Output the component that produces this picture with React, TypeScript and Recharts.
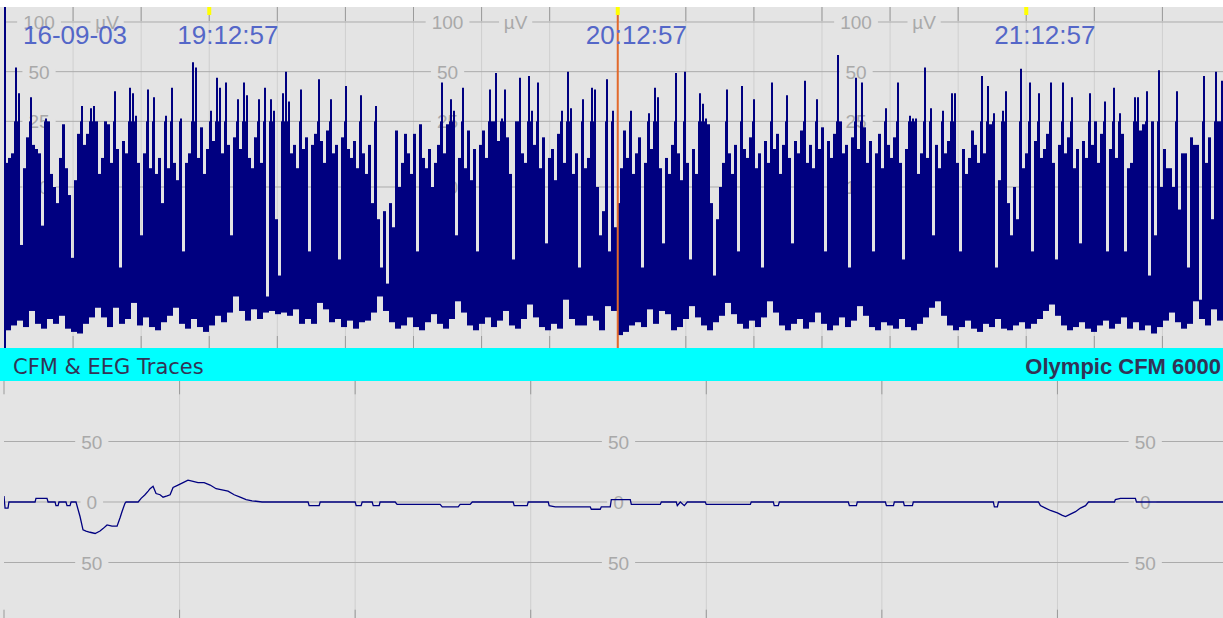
import React from 'react';
import { ComposedChart, LineChart, Bar, Line, XAxis, YAxis, ReferenceLine, ReferenceDot } from 'recharts';

// ---- CFM trend (top panel) ----
// one column per sample: maximum amplitude in µV
const cfmMax = [
  14, 15, 16, 53, 37, 6.4, 13, 20, 35, 18,
  17, 16, 7.6, 26, 25, 12, 10, 9, 15, 24,
  13, 9.5, 5.6, 11, 21, 31, 18, 21, 30, 31,
  25, 12, 15, 25, 24, 14, 38, 17, 5, 19,
  16, 40, 37, 27, 14, 7, 16, 39, 13, 35,
  12, 15, 9, 27, 13, 40, 14, 11, 26, 6,
  14, 16, 57, 53, 15, 23, 12, 17, 29, 19,
  46, 40, 16, 43, 18, 7, 20, 34, 17, 43,
  36, 15, 13, 20, 34, 14, 40, 3.2, 34, 29,
  8, 4.5, 37, 50, 33, 16, 18, 13, 39, 17,
  20, 6, 18, 21, 45, 19, 14, 22, 34, 16,
  18, 5.5, 20, 41, 17, 15, 19, 13, 36, 16,
  12, 18, 9, 31, 8, 5, 8.5, 4, 9, 7.5,
  22, 10, 14, 21, 16, 12, 21, 6, 24, 15,
  13, 17, 10, 14, 18, 43, 16, 24, 34, 29,
  7, 15, 40, 13, 22, 11, 17, 6, 18, 22,
  15, 39, 25, 49, 19, 26, 39, 20, 12, 5.5,
  25, 46, 16, 14, 47, 29, 18, 43, 13, 20,
  6.5, 15, 17, 11, 21, 29, 14, 50, 30, 12,
  16, 5, 34, 13, 15, 40, 39, 10, 7, 8.5,
  45, 6, 29, 7.5, 9, 13, 22, 15, 29, 12,
  16, 20, 5, 14, 28, 17, 40, 35, 13, 6.5,
  15, 12, 18, 49, 16, 11, 50, 14, 5.5, 17,
  12, 37, 32, 26, 24, 9, 4.5, 8, 10, 14,
  39, 16, 12, 18, 6, 41, 17, 15, 20, 34,
  13, 16, 5, 19, 14, 43, 17, 21, 12, 18,
  36, 15, 6.5, 19, 16, 22, 44, 14, 18, 13,
  34, 17, 23, 6, 19, 15, 21, 63, 25, 16,
  18, 5, 20, 46, 17, 43, 23, 14, 19, 6,
  16, 21, 13, 30, 18, 15, 20, 43, 14, 5.5,
  17, 27, 26, 26, 12, 16, 53, 15, 30, 7,
  18, 13, 29, 16, 19, 37, 37, 14, 6, 17,
  12, 15, 22, 18, 14, 47, 16, 41, 24, 28,
  5, 11, 29, 38, 9, 7, 10, 8, 52, 13,
  16, 43, 6, 19, 37, 15, 17, 21, 43, 14,
  5.5, 18, 43, 16, 20, 35, 13, 17, 6.5, 19,
  15, 37, 18, 25, 14, 21, 33, 6, 17, 40,
  15, 28, 21, 6, 13, 14, 35, 35, 22, 24,
  38, 4.5, 25, 7, 51, 10, 17, 13, 13, 10,
  38, 8.6, 16, 16, 5, 20, 18, 18, 3, 47,
  14, 20, 8, 50, 25, 44,
];

// minimum amplitude in µV, one value for every two columns
const cfmMin = [
  1.1, 1.4, 1.7, 1.3, 2.3, 1.5, 1.2, 1.8, 1.5, 2.0,
  1.2, 1.0, 0.9, 1.5, 1.9, 2.5, 1.9, 1.3, 2.5, 1.5,
  1.8, 2.8, 1.4, 1.9, 1.3, 1.1, 1.6, 2.0, 2.5, 1.5,
  1.2, 1.8, 1.3, 1.0, 1.4, 2.0, 1.6, 2.2, 3.2, 2.3,
  1.7, 2.4, 1.8, 2.2, 2.3, 2.1, 2.2, 2.0, 2.4, 1.5,
  1.8, 1.5, 2.8, 2.4, 1.6, 1.8, 1.3, 1.7, 1.2, 1.6,
  1.7, 2.2, 3.2, 2.3, 1.6, 1.2, 1.4, 1.9, 1.3, 1.1,
  1.6, 2.1, 1.5, 1.2, 1.8, 2.9, 2.2, 1.4, 1.1, 1.5,
  1.9, 1.3, 1.7, 2.3, 1.4, 1.2, 1.8, 2.7, 1.9, 1.3,
  1.1, 1.5, 1.2, 3.0, 1.8, 1.4, 1.4, 2.0, 1.7, 1.1,
  2.6, 2.3, 0.8, 1.0, 1.4, 1.6, 1.3, 2.4, 1.5, 2.3,
  2.1, 1.1, 1.3, 1.8, 2.6, 1.9, 1.4, 1.1, 1.6, 2.0,
  2.8, 2.1, 1.5, 1.2, 1.7, 1.3, 1.9, 2.9, 2.2, 1.4,
  1.1, 1.5, 1.8, 1.2, 1.6, 2.2, 1.5, 1.1, 1.4, 1.9,
  1.3, 1.7, 2.6, 2.0, 1.3, 1.1, 1.6, 1.4, 1.2, 1.8,
  1.3, 1.1, 1.5, 1.9, 2.5, 2.9, 2.0, 1.4, 1.1, 1.3,
  1.7, 1.2, 1.0, 1.5, 1.3, 1.8, 1.2, 1.1, 1.4, 1.6,
  1.2, 1.5, 1.8, 2.3, 2.7, 2.0, 1.4, 1.1, 1.3, 1.6,
  1.2, 1.0, 1.4, 1.7, 1.2, 1.5, 1.9, 1.2, 1.6, 1.1,
  1.4, 0.9, 1.3, 1.7, 2.2, 1.6, 1.2, 1.5, 2.9, 1.8,
  1.4, 2.4, 1.7,
];

const SPAN_MIN = 178.9; // minutes shown, starting 18:42:57
const timeTicks = [0, 10, 20, 30, 40, 50, 60, 70, 80, 90, 100, 110, 120, 130, 140, 150, 160, 170];
const stampTicks = [30, 90, 150];
const stampLabels = ['19:12:57', '20:12:57', '21:12:57'];
const dateLabel = '16-09-03';
const cursorTime = 90;
const cfmLevels = [100, 50, 25, 10];
const cfmLabelTimes = [5, 65, 125];
const unitTimes = [15, 75, 135];

// ---- EEG trace (bottom panel), seconds / µV ----
const eegTime = [
  0, 0.006, 0.023, 0.028, 0.177, 0.182, 0.245, 0.251, 0.291, 0.296,
  0.308, 0.313, 0.353, 0.359, 0.376, 0.382, 0.41, 0.433, 0.45, 0.467,
  0.49, 0.519, 0.547, 0.564, 0.587, 0.615, 0.644, 0.661, 0.672, 0.689,
  0.695, 0.764, 0.781, 0.803, 0.821, 0.832, 0.849, 0.866, 0.889, 0.906,
  0.929, 0.946, 0.963, 0.991, 1.02, 1.048, 1.077, 1.105, 1.14, 1.174,
  1.208, 1.242, 1.276, 1.311, 1.345, 1.379, 1.413, 1.47, 1.732, 1.738,
  1.795, 1.801, 2.0, 2.006, 2.034, 2.04, 2.097, 2.103, 2.137, 2.142,
  2.228, 2.239, 2.484, 2.496, 2.587, 2.598, 2.655, 2.667, 2.9, 2.906,
  2.98, 2.986, 3.1, 3.105, 3.14, 3.339, 3.345, 3.396, 3.402, 3.453,
  3.459, 3.567, 3.573, 3.738, 3.744, 3.829, 3.835, 3.852, 3.875, 3.892,
  3.994, 4.0, 4.251, 4.256, 4.382, 4.387, 4.41, 4.416, 4.809, 4.815,
  4.855, 4.86, 5.02, 5.026, 5.066, 5.071, 5.123, 5.128, 5.174, 5.179,
  5.635, 5.641, 5.658, 5.664, 5.892, 5.903, 5.932, 5.96, 6.0, 6.028,
  6.046, 6.074, 6.103, 6.131, 6.16, 6.177, 6.325, 6.33, 6.359, 6.444,
  6.45, 7.0,
];
const eegValue = [
  5, -5, -5, 0, 0, 3, 3, 0, 0, -3,
  -3, 0, 0, -3, -3, 0, 0, -12, -23, -24,
  -25, -26, -24, -22, -19, -20, -20, -13, -8, -1,
  0, 0, 3, 6, 9, 11, 13, 7, 6, 4,
  5, 6, 12, 14, 16, 18, 17, 16, 16, 14,
  11, 10, 9, 6, 4, 2, 1, 0, 0, -3,
  -3, 0, 0, -3, -3, 0, 0, -3, -3, 0,
  0, -2, -2, -4, -4, -2, -2, 0, 0, -3,
  -3, 0, 0, -3, -4, -4, -6, -6, -4, -4,
  2, 2, -2, -2, 0, 0, -3, 0, -3, 0,
  0, -2, -2, 0, 0, -3, -3, 0, 0, -3,
  -3, 0, 0, -3, -3, 0, 0, -3, -3, 0,
  0, -4, -4, 0, 0, -3, -5, -7, -9, -11,
  -12, -10, -8, -5, -3, 0, 0, 2, 3, 3,
  0, 0,
];
const eegTicks = [0, 1, 2, 3, 4, 5, 6, 7];
const eegGridTicks = [1, 2, 3, 4, 5, 6];
const eegLevels = [50, 0, -50];
const eegLabelTimes = [0.5, 3.5, 6.5];

// ---- styling ----
const NAVY = '#000080';
const BG = '#e4e4e4';
const GRID_H = '#ababab';
const GRID_V = '#cfcfcf';
const TICK = '#9a9a9a';
const LABEL = '#a9a9a9';
const STAMP = '#5467c8';
const ORANGE = '#e2692b';
const SANS = 'Liberation Sans, Arial, sans-serif';

// semi-log CFM scale: linear 0-10 µV, log 10-100 µV
const cfmScale = (v: number) => (v <= 10 ? v * 16.1 : 161 + 165 * Math.log10(v / 10));
const CFM_TOP = 341;
const SPIKE_FROM = 25; // the part of a column above this level is drawn as a thin spike
const EEG_MIN = -100;
const EEG_MAX = 100;

const colMinutes = SPAN_MIN / cfmMax.length;
const cfmRows = cfmMax.map((hi, i) => ({
  i,
  t: (i + 0.5) * colMinutes,
  body: [cfmScale(cfmMin[Math.floor(i / 2)]), cfmScale(Math.min(hi, SPIKE_FROM))],
  spike: hi > SPIKE_FROM ? [cfmScale(SPIKE_FROM) - 1, cfmScale(hi)] : null,
}));
const eegRows = eegTime.map((t, k) => ({ t, v: eegValue[k] }));

const gapLabel = (text: string) => (props: any) => {
  const w = text.length * 10.6 + 12;
  return (
    <g>
      <rect x={props.cx - w / 2} y={props.cy - 3} width={w} height={6} fill={BG} />
      <text x={props.cx} y={props.cy + 7} textAnchor="middle" fill={LABEL} fontSize={19} fontFamily={SANS}>
        {text}
      </text>
    </g>
  );
};

const StampTick = (props: any) => {
  const { x, y, payload } = props;
  if (payload.value === 0) {
    return (
      <text x={x + 18} y={y + 37} fill={STAMP} fontSize={26} fontFamily={SANS}>
        {dateLabel}
      </text>
    );
  }
  const label = stampLabels[stampTicks.indexOf(payload.value)];
  return (
    <g>
      <rect x={x - 2} y={y} width={4} height={8} fill="#ffff00" />
      <text x={x - 32} y={y + 37} fill={STAMP} fontSize={26} fontFamily={SANS}>
        {label}
      </text>
    </g>
  );
};

const topMargin = { top: 7, right: 0, bottom: 0, left: 5 };
const botMargin = { top: 0, right: 0, bottom: 0, left: 4 };
const layer: React.CSSProperties = { position: 'absolute', left: 0, top: 0 };
const lowLayer: React.CSSProperties = { position: 'absolute', left: 0, top: 381 };

const App = () => {
  const topX = <XAxis dataKey="t" type="number" domain={[0, SPAN_MIN]} allowDataOverflow hide />;
  const topY = <YAxis type="number" domain={[0, CFM_TOP]} allowDataOverflow hide />;
  const colX = <XAxis xAxisId="col" dataKey="i" type="category" hide />;
  const botX = <XAxis dataKey="t" type="number" domain={[0, 7]} allowDataOverflow hide />;
  const botY = <YAxis type="number" domain={[EEG_MIN, EEG_MAX]} allowDataOverflow hide />;
  return (
    <div style={{ position: 'absolute', left: 0, top: 0, width: 1223, height: 618, overflow: 'hidden', background: '#ffffff' }}>
      {/* top panel: grid */}
      <div style={{ position: 'absolute', left: 0, top: 7, width: 1223, height: 341, background: BG }} />
      <div style={layer}>
        <ComposedChart width={1223} height={348} margin={topMargin} data={cfmRows}>
          {topX}
          {topY}
          {timeTicks.slice(1).map((t) => (
            <ReferenceLine key={`v${t}`} x={t} stroke={GRID_V} />
          ))}
          {cfmLevels.map((lv) => (
            <ReferenceLine key={`h${lv}`} y={cfmScale(lv)} stroke={GRID_H} />
          ))}
          {timeTicks.map((t) => (
            <ReferenceLine key={`tt${t}`} segment={[{ x: t, y: CFM_TOP }, { x: t, y: CFM_TOP - 14 }]} stroke={TICK} />
          ))}
          {timeTicks.map((t) => (
            <ReferenceLine key={`tb${t}`} segment={[{ x: t, y: 0 }, { x: t, y: 12 }]} stroke={TICK} />
          ))}
        </ComposedChart>
      </div>
      {/* top panel: scale labels */}
      <div style={layer}>
        <ComposedChart width={1223} height={348} margin={topMargin} data={cfmRows}>
          {topX}
          {topY}
          {cfmLabelTimes.map((t) =>
            cfmLevels.map((lv) => (
              <ReferenceDot key={`${t}-${lv}`} x={t} y={cfmScale(lv)} r={0} shape={gapLabel(String(lv))} />
            ))
          )}
          {unitTimes.map((t) => (
            <ReferenceDot key={`u${t}`} x={t} y={cfmScale(100)} r={0} shape={gapLabel('µV')} />
          ))}
        </ComposedChart>
      </div>
      {/* top panel: CFM trend, dense band */}
      <div style={layer}>
        <ComposedChart width={1223} height={348} margin={topMargin} data={cfmRows} barCategoryGap={0} barGap={0}>
          {colX}
          {topY}
          <Bar xAxisId="col" dataKey="body" fill={NAVY} isAnimationActive={false} />
        </ComposedChart>
      </div>
      {/* top panel: CFM trend, thin peaks */}
      <div style={layer}>
        <ComposedChart width={1223} height={348} margin={topMargin} data={cfmRows}>
          {colX}
          {topY}
          <Bar xAxisId="col" dataKey="spike" barSize={2} fill={NAVY} isAnimationActive={false} />
        </ComposedChart>
      </div>
      {/* top panel: cursor and time stamps */}
      <div style={layer}>
        <ComposedChart width={1223} height={348} margin={topMargin} data={cfmRows}>
          <XAxis xAxisId="time" dataKey="t" type="number" domain={[0, SPAN_MIN]} allowDataOverflow
            ticks={[0, ...stampTicks]} interval={0} orientation="top" mirror tickSize={0} tickMargin={0}
            tick={<StampTick />} tickLine={false} axisLine={false} />
          {topY}
          <ReferenceLine xAxisId="time" x={0} stroke={NAVY} strokeWidth={2} />
          <ReferenceLine xAxisId="time" x={cursorTime} stroke={ORANGE} strokeWidth={2} />
        </ComposedChart>
      </div>

      {/* title band */}
      <svg style={{ position: 'absolute', left: 0, top: 348 }} width={1223} height={33}>
        <rect x={0} y={0} width={1223} height={33} fill="#00ffff" />
        <text x={13} y={26} fill="#333355" fontSize={21} fontFamily="DejaVu Sans, sans-serif">CFM &amp; EEG Traces</text>
        <text x={1221} y={26} textAnchor="end" fill="#333355" fontSize={22} fontWeight="bold" fontFamily={SANS}>
          Olympic CFM 6000
        </text>
      </svg>

      {/* bottom panel: grid */}
      <div style={{ position: 'absolute', left: 0, top: 381, width: 1223, height: 237, background: BG }} />
      <div style={lowLayer}>
        <ComposedChart width={1233} height={242} margin={botMargin} data={eegRows}>
          {botX}
          {botY}
          {eegGridTicks.map((t) => (
            <ReferenceLine key={`v${t}`} x={t} stroke={GRID_V} />
          ))}
          {eegLevels.map((lv) => (
            <ReferenceLine key={`h${lv}`} y={lv} stroke={GRID_H} />
          ))}
          {eegTicks.map((t) => (
            <ReferenceLine key={`tt${t}`} segment={[{ x: t, y: EEG_MAX }, { x: t, y: EEG_MAX - 11 }]} stroke={TICK} />
          ))}
          {eegTicks.map((t) => (
            <ReferenceLine key={`tb${t}`} segment={[{ x: t, y: EEG_MIN }, { x: t, y: EEG_MIN + 11 }]} stroke={TICK} />
          ))}
        </ComposedChart>
      </div>
      {/* bottom panel: scale labels */}
      <div style={lowLayer}>
        <ComposedChart width={1233} height={242} margin={botMargin} data={eegRows}>
          {botX}
          {botY}
          {eegLabelTimes.map((t) =>
            eegLevels.map((lv) => (
              <ReferenceDot key={`${t}-${lv}`} x={t} y={lv} r={0} shape={gapLabel(String(Math.abs(lv)))} />
            ))
          )}
        </ComposedChart>
      </div>
      {/* bottom panel: EEG trace */}
      <div style={lowLayer}>
        <LineChart width={1233} height={242} margin={botMargin} data={eegRows}>
          {botX}
          {botY}
          <Line dataKey="v" type="linear" stroke={NAVY} strokeWidth={1.3} dot={false} isAnimationActive={false} />
        </LineChart>
      </div>
    </div>
  );
};

export default App;
